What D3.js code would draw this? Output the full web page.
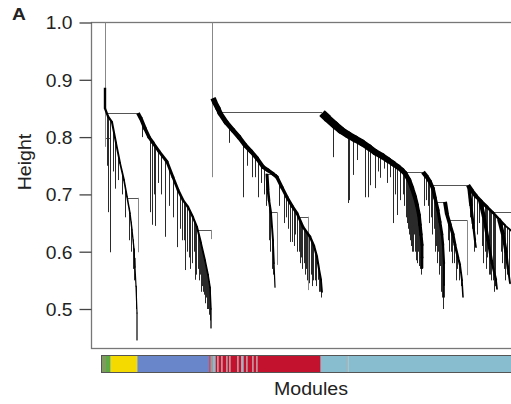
<!DOCTYPE html>
<html>
<head>
<meta charset="utf-8">
<script src="https://cdn.jsdelivr.net/npm/d3@7"></script>
<style>
  body { margin: 0; background: #fff; }
  svg { display: block; }
  text { font-family: "Liberation Sans", Arial, Helvetica, sans-serif; fill: #222; }
</style>
</head>
<body>
<script>
// y axis ticks (merge height)
var heightTicks = [0.5, 0.6, 0.7, 0.8, 0.9, 1.0];

// dendrogram. x = leaf order position (0-410), y = merge height
// dense chains of successive merges: [position, height]
var chainA = [[4,0.886],[4,0.85],[7,0.836],[11,0.826],[15,0.79],[19,0.755],[23,0.725],[26,0.696],[29,0.667],[31,0.638],[33,0.605],[34,0.573],[35,0.54],[36,0.493],[36,0.446]];
var chainB = [[37,0.842],[40,0.832],[44,0.815],[48,0.80],[52,0.790],[58,0.775],[66,0.757],[72,0.73],[77,0.708],[82,0.69],[87,0.678],[92,0.66],[96,0.643],[100,0.615],[104,0.585],[107,0.56],[109,0.538],[110,0.50],[110,0.467]];
var chainC = [[112,0.868],[114,0.86],[117,0.85],[119,0.842],[125,0.826],[132,0.812],[138,0.80],[144,0.786],[150,0.775],[156,0.763],[162,0.748],[167,0.742],[172,0.736],[176,0.730],[181,0.712],[186,0.695],[191,0.68],[196,0.667],[202,0.643],[209,0.626],[213,0.61],[216,0.591],[218,0.57],[220,0.551],[221,0.53]];
var chainD = [[166,0.736],[167,0.708],[168,0.69],[170,0.667],[172,0.620],[173,0.580],[174,0.538]];
var chainE = [[221,0.842],[227,0.832],[234,0.821],[240,0.812],[247,0.804],[254,0.797],[261,0.790],[268,0.782],[274,0.774],[281,0.767],[287,0.760],[292,0.754],[297,0.748],[301,0.742],[304,0.737],[308,0.725],[311,0.711],[314,0.695],[316,0.681],[318,0.664],[319,0.647],[320,0.63],[321,0.612],[321,0.59],[321,0.572]];
var chainF = [[322,0.739],[326,0.73],[329,0.722],[332,0.71],[334,0.694],[337,0.672],[339,0.652],[341,0.63],[342,0.612],[343,0.58],[343,0.542],[343,0.521]];
var chainG = [[367,0.716],[371,0.706],[375,0.697],[380,0.688],[386,0.678],[392,0.668],[398,0.657],[404,0.646],[412,0.634]];
var chainG1 = [[368,0.712],[370,0.68],[372,0.65],[374,0.62],[375,0.608]];
var chainG2 = [[379,0.69],[383,0.66],[387,0.62],[391,0.58],[395,0.551],[396,0.535]];
var chainG3 = [[398,0.657],[402,0.63],[405,0.60],[407,0.57],[409,0.545]];
var chainH = [[344,0.687],[346,0.665],[349,0.647],[352,0.63],[354,0.612],[357,0.59],[359,0.577],[361,0.55],[362,0.521]];

// single leaves hanging under each chain: [position, lowest height]
var dropsA = [[6,0.75],[7,0.669],[9,0.599],[12,0.74],[14,0.71],[17,0.725],[21,0.70],[24,0.66],[28,0.62],[30,0.60],[32,0.57],[33,0.55],[35,0.50]];
var dropsB = [[41,0.80],[49,0.669],[51,0.647],[53,0.70],[54,0.645],[57,0.72],[60,0.70],[64,0.626],[68,0.68],[72,0.66],[76,0.608],[79,0.64],[81,0.62],[83,0.62],[84,0.568],[86,0.60],[88,0.59],[89,0.57],[91,0.58],[93,0.60],[94,0.551],[95,0.56],[97,0.57],[98,0.55],[99,0.56],[100,0.53],[101,0.54],[102,0.53],[103,0.525],[104,0.51],[105,0.52],[106,0.50],[107,0.50],[108,0.49],[109,0.48]];
var dropsC = [[128,0.79],[142,0.695],[146,0.75],[151,0.730],[154,0.730],[157,0.695],[160,0.72],[163,0.70],[178,0.68],[183,0.65],[185,0.66],[187,0.64],[189,0.617],[191,0.617],[193,0.61],[194,0.63],[196,0.60],[198,0.60],[199,0.58],[200,0.59],[201,0.57],[203,0.58],[204,0.56],[205,0.57],[206,0.55],[208,0.545],[210,0.56],[211,0.54],[212,0.55],[214,0.55],[215,0.54],[217,0.551],[218,0.53],[219,0.53],[220,0.52]];
var dropsD = [[165,0.68],[168,0.62],[169,0.60],[171,0.57],[172,0.56]];
var dropsE = [[232,0.765],[247,0.685],[248,0.69],[252,0.734],[256,0.76],[264,0.695],[267,0.695],[269,0.716],[274,0.711],[277,0.74],[279,0.729],[283,0.745],[286,0.720],[289,0.73],[292,0.650],[294,0.70],[296,0.664],[299,0.69],[302,0.70],[303,0.68],[305,0.66],[306,0.65],[307,0.64],[308,0.63],[309,0.62],[310,0.61],[311,0.60],[312,0.60],[313,0.63],[314,0.60],[315,0.585],[316,0.58],[317,0.60],[318,0.575],[319,0.57],[320,0.56]];
var dropsF = [[323,0.68],[325,0.69],[327,0.68],[328,0.65],[330,0.66],[331,0.63],[333,0.64],[334,0.60],[335,0.61],[336,0.58],[337,0.60],[338,0.56],[339,0.575],[340,0.53],[341,0.52],[342,0.50]];
var dropsG = [[369,0.66],[371,0.64],[373,0.60],[376,0.63],[378,0.65],[381,0.61],[382,0.58],[384,0.60],[385,0.57],[386,0.59],[388,0.56],[389,0.56],[390,0.55],[392,0.55],[393,0.53],[394,0.54],[400,0.60],[401,0.58],[403,0.57],[404,0.55],[406,0.56],[408,0.55]];
var dropsH = [[347,0.62],[348,0.60],[350,0.60],[351,0.58],[353,0.58],[355,0.55],[356,0.57],[358,0.55],[360,0.54]];

// horizontal merges [from, to, height] and free vertical branches [position, top, bottom]
var joins = [[4,37,0.842],[4,9,0.798],[26,37,0.694],[94,110,0.638],[117,221,0.843],[166,176,0.736],[169,176,0.669],[199,207,0.661],[304,322,0.739],[329,367,0.716],[334,344,0.687],[347,366,0.655],[389,412,0.669]];
var stems = [[4,1.0,0.783],[111,1.0,0.730],[37,0.694,0.599],[110,0.638,0.622],[176,0.669,0.577],[207,0.661,0.533],[366,0.655,0.559],[34,0.589,0.573]];

// module colour bar: [from, to, module]
var moduleBlocks = [[1,5,'darkgreen'],[5,9.7,'green'],[9.7,36.3,'yellow'],[36.3,108.3,'blue'],[108.3,109.7,'red'],[109.7,112,'grey'],[112,114.5,'lightblue'],[114.5,116.5,'red'],[116.5,117.5,'grey'],[117.5,120.5,'red'],[120.5,121.5,'grey'],[121.5,125.5,'red'],[125.5,126.5,'grey'],[126.5,128.5,'red'],[128.5,129.5,'grey'],[129.5,136.5,'red'],[136.5,137.5,'grey'],[137.5,140.5,'red'],[140.5,142.5,'lightblue'],[142.5,145.5,'red'],[145.5,146.5,'grey'],[146.5,151.5,'red'],[151.5,152.5,'grey'],[152.5,155.5,'red'],[155.5,156.5,'grey'],[156.5,219.7,'red'],[219.7,246.3,'lightblue'],[246.3,247.3,'grey'],[247.3,420,'lightblue']];
var moduleNames = ['darkgreen','green','yellow','blue','red','grey','lightblue'];

var width = 511, height = 404;
var svg = d3.select('body').append('svg')
  .attr('width', width)
  .attr('height', height);

var xScale = d3.scaleLinear().domain([0, 410]).range([101, 511]);
var yScale = d3.scaleLinear().domain([0.5, 1.0]).range([309, 22.5]);
var colorScale = d3.scaleOrdinal()
  .domain(moduleNames)
  .range(['#7f9c5e', '#5faa44', '#f5da00', '#6886c9', '#c2122d', '#9c9c9c', '#88bdcf']);

// snap thin verticals onto the pixel grid so they stay dark
function px(v) { return Math.round(v) + 0.5 }

var frame = {left: 91.5, top: 22.5, bottom: 348.5, right: 540};

svg.append('clipPath').attr('id', 'plotclip')
  .append('rect')
  .attr('x', frame.left).attr('y', frame.top - 1)
  .attr('width', frame.right - frame.left)
  .attr('height', frame.bottom - frame.top + 1);

// frame box
svg.append('rect')
  .attr('x', frame.left).attr('y', frame.top)
  .attr('width', frame.right - frame.left)
  .attr('height', frame.bottom - frame.top)
  .attr('fill', 'none')
  .attr('stroke', '#777')
  .attr('stroke-width', 1.3);

// y axis
var yAxis = d3.axisLeft(yScale)
  .tickValues(heightTicks)
  .tickSize(12)
  .tickFormat(d3.format('.1f'));
var yGroup = svg.append('g')
  .attr('transform', 'translate(' + frame.left + ',0)')
  .call(yAxis);
yGroup.select('.domain').remove();
yGroup.selectAll('.tick line').attr('stroke', '#444').attr('stroke-width', 1.3);
yGroup.selectAll('.tick text')
  .attr('x', 0)
  .attr('dy', '0.36em')
  .attr('transform', 'translate(-19,0) scale(1.1,1)')
  .style('font-size', '17.5px')
  .style('font-family', '"Liberation Sans", Arial, sans-serif')
  .attr('fill', '#1a1a1a');

var dendro = svg.append('g').attr('clip-path', 'url(#plotclip)');

function heightAt(spine, pos) {
  if (pos <= spine[0][0]) return spine[0][1];
  for (var i = 0; i < spine.length - 1; i++) {
    var a = spine[i], b = spine[i + 1];
    if (pos <= b[0]) {
      if (b[0] === a[0]) return a[1];
      return a[1] + (b[1] - a[1]) * (pos - a[0]) / (b[0] - a[0]);
    }
  }
  return spine[spine.length - 1][1];
}

var chains = [
  {spine: chainA, drops: dropsA, w: 2.4},
  {spine: chainB, drops: dropsB, w: 3.8},
  {spine: chainC, drops: dropsC, w: 5.5},
  {spine: chainD, drops: dropsD, w: 3},
  {spine: chainE, drops: dropsE, w: 8},
  {spine: chainF, drops: dropsF, w: 4.5},
  {spine: chainG, drops: dropsG, w: 4.5},
  {spine: chainG1, drops: [], w: 3.5},
  {spine: chainG2, drops: [], w: 4},
  {spine: chainG3, drops: [], w: 4},
  {spine: chainH, drops: dropsH, w: 4}
];

// horizontal merges
dendro.selectAll('line.join')
  .data(joins)
  .enter().append('line')
  .attr('class', 'join')
  .attr('x1', function(d) { return xScale(d[0]) })
  .attr('x2', function(d) { return xScale(d[1]) })
  .attr('y1', function(d) { return px(yScale(d[2])) })
  .attr('y2', function(d) { return px(yScale(d[2])) })
  .attr('stroke', '#555')
  .attr('stroke-width', 1);

// free vertical branches
dendro.selectAll('line.stem')
  .data(stems)
  .enter().append('line')
  .attr('class', 'stem')
  .attr('x1', function(d) { return px(xScale(d[0])) })
  .attr('x2', function(d) { return px(xScale(d[0])) })
  .attr('y1', function(d) { return yScale(d[1]) })
  .attr('y2', function(d) { return yScale(d[2]) })
  .attr('stroke', '#888')
  .attr('stroke-width', 1);

// leaves hanging from the chains
chains.forEach(function(c) {
  dendro.append('g').selectAll('line')
    .data(c.drops)
    .enter().append('line')
    .attr('x1', function(d) { return px(xScale(d[0])) })
    .attr('x2', function(d) { return px(xScale(d[0])) })
    .attr('y1', function(d) { return yScale(heightAt(c.spine, d[0])) })
    .attr('y2', function(d) { return yScale(d[1]) })
    .attr('stroke', '#2a2a2a')
    .attr('stroke-width', 1);
});

// chains drawn segment by segment, thinning toward the lowest merges
chains.forEach(function(c) {
  var n = c.spine.length - 1;
  var segs = d3.pairs(c.spine);
  dendro.append('g').selectAll('line')
    .data(segs)
    .enter().append('line')
    .attr('x1', function(d) { return xScale(d[0][0]) })
    .attr('y1', function(d) { return yScale(d[0][1]) })
    .attr('x2', function(d) { return xScale(d[1][0]) })
    .attr('y2', function(d) { return yScale(d[1][1]) })
    .attr('stroke', '#000')
    .attr('stroke-linecap', function(d, i) { return i === 0 ? 'butt' : 'round' })
    .attr('stroke-width', function(d, i) { return Math.max(1.2, c.w * (1 - 0.7 * i / n)) });
});

// module colour bar
var bar = {y: 356, h: 16};
svg.append('g').selectAll('rect.mod')
  .data(moduleBlocks)
  .enter().append('rect')
  .attr('class', 'mod')
  .attr('x', function(d) { return xScale(d[0]) })
  .attr('width', function(d) { return xScale(d[1]) - xScale(d[0]) })
  .attr('y', bar.y)
  .attr('height', bar.h)
  .attr('fill', function(d) { return colorScale(d[2]) });

svg.append('rect')
  .attr('x', xScale(1) - 0.5).attr('y', bar.y - 0.5)
  .attr('width', xScale(420) - xScale(1))
  .attr('height', bar.h + 1)
  .attr('fill', 'none')
  .attr('stroke', '#555')
  .attr('stroke-width', 1);

// labels
svg.append('text')
  .attr('transform', 'translate(311,395) scale(1.12,1)')
  .attr('text-anchor', 'middle')
  .style('font-size', '17.5px')
  .text('Modules');

svg.append('text')
  .attr('transform', 'translate(31,162) rotate(-90) scale(1.12,1)')
  .attr('text-anchor', 'middle')
  .style('font-size', '17.5px')
  .text('Height');

svg.append('text')
  .attr('transform', 'translate(12,20) scale(1.2,1)')
  .style('font-size', '16px')
  .style('font-weight', 'bold')
  .attr('fill', '#000')
  .text('A');
</script>
</body>
</html>
